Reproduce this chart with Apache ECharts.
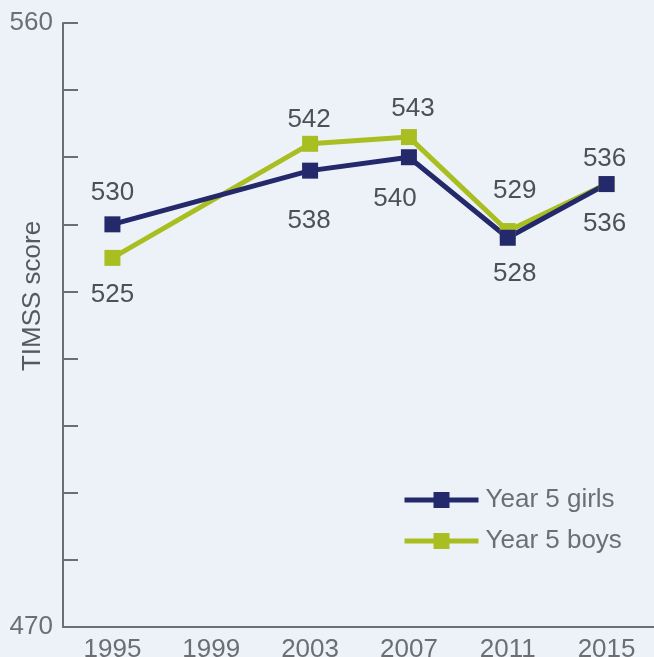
<!DOCTYPE html>
<html>
<head>
<meta charset="utf-8">
<script src="https://cdn.jsdelivr.net/npm/echarts@6/dist/echarts.min.js"></script>
<style>
html, body { margin: 0; padding: 0; background: #edf2f9; }
#main { width: 654px; height: 657px; }
</style>
</head>
<body>
<div id="main"></div>
<script>
var years = ['1995', '1999', '2003', '2007', '2011', '2015'];
var girls = [530, null, 538, 540, 528, 536];
var boys = [525, null, 542, 543, 529, 536];

// where each value label sits, relative to its marker
var girlsLabelOffset = [[0, -32], null, [-1, 50], [-14, 42], [7, 36], [-2, 40]];
var boysLabelOffset = [[0, 37], null, [-1, -24], [4, -28], [7, -40], [-2, -25]];

var font = '"Liberation Sans", Arial, Helvetica, sans-serif';
var axisColor = '#6d6e71';

function withLabels(values, offsets) {
	return values.map(function (v, i) {
		if (v === null) return null;
		return {
			value: v,
			label: { offset: offsets[i] }
		};
	});
}

var seriesLabel = {
	show: true,
	position: 'inside',
	color: '#4e5054',
	fontSize: 26,
	fontFamily: font
};

var option = {
	backgroundColor: '#edf2f9',
	animation: false,
	grid: {
		left: 63,
		right: -2,
		top: 23,
		bottom: 30,
		outerBoundsMode: 'none',
		containLabel: false
	},
	legend: {
		orient: 'vertical',
		left: 397,
		top: 482,
		itemWidth: 74,
		itemHeight: 20,
		itemGap: 15,
		data: ['Year 5 girls', 'Year 5 boys'],
		lineStyle: { width: 5 },
		textStyle: {
			color: axisColor,
			fontSize: 26,
			fontFamily: font,
			padding: [0, 0, 0, 2]
		}
	},
	graphic: [{
		type: 'text',
		x: 33,
		y: 296,
		rotation: Math.PI / 2,
		style: {
			text: 'TIMSS score',
			fill: '#58595b',
			font: '26px ' + font,
			align: 'center',
			verticalAlign: 'middle'
		}
	}],
	xAxis: {
		type: 'category',
		data: years,
		axisLine: { lineStyle: { color: axisColor, width: 2 } },
		axisTick: { inside: true, length: 14, lineStyle: { color: axisColor, width: 2 } },
		axisLabel: { color: axisColor, fontSize: 26, fontFamily: font, margin: 10, hideOverlap: false }
	},
	yAxis: {
		type: 'value',
		min: 470,
		max: 560,
		interval: 10,
		splitLine: { show: false },
		axisLine: { show: true, lineStyle: { color: axisColor, width: 2 } },
		axisTick: { show: true, inside: true, length: 15, lineStyle: { color: axisColor, width: 2 } },
		axisLabel: {
			color: axisColor,
			fontSize: 26,
			fontFamily: font,
			margin: 10,
			padding: [5, 0, 0, 0],
			formatter: function (v) {
				return (v === 470 || v === 560) ? v : '';
			}
		}
	},
	series: [{
		name: 'Year 5 boys',
		type: 'line',
		data: withLabels(boys, boysLabelOffset),
		connectNulls: true,
		symbol: 'rect',
		symbolSize: 16,
		itemStyle: { color: '#a9be21' },
		lineStyle: { color: '#a9be21', width: 5 },
		label: seriesLabel
	}, {
		name: 'Year 5 girls',
		type: 'line',
		data: withLabels(girls, girlsLabelOffset),
		connectNulls: true,
		symbol: 'rect',
		symbolSize: 16,
		itemStyle: { color: '#23296a' },
		lineStyle: { color: '#23296a', width: 5 },
		label: seriesLabel
	}]
};
var myChart = echarts.init(document.getElementById('main'));
myChart.setOption(option);
</script>
</body>
</html>
